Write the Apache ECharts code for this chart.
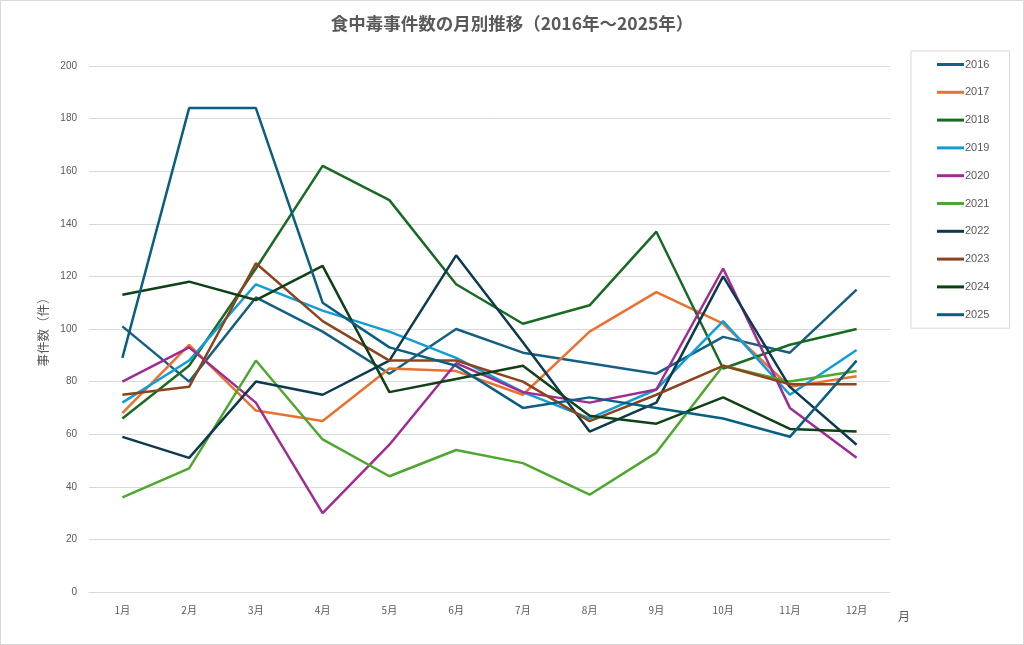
<!DOCTYPE html>
<html>
<head>
<meta charset="utf-8">
<script src="https://cdn.jsdelivr.net/npm/echarts@6/dist/echarts.min.js"></script>
<style>
html,body{margin:0;padding:0;background:#fff;}
#chart{width:1024px;height:645px;box-sizing:border-box;border:1px solid #d9d9d9;}
</style>
</head>
<body>
<div id="chart"></div>
<script>
// 月ラベル
var months = ['1月','2月','3月','4月','5月','6月','7月','8月','9月','10月','11月','12月'];
var years = ['2016','2017','2018','2019','2020','2021','2022','2023','2024','2025'];

// 各年の月別件数
var y2016 = [101, 80, 112, 99, 83, 100, 91, 87, 83, 97, 91, 115];
var y2017 = [68, 94, 69, 65, 85, 84, 75, 99, 114, 102, 78, 82];
var y2018 = [66, 86, 123, 162, 149, 117, 102, 109, 137, 85, 94, 100];
var y2019 = [72, 88, 117, 107, 99, 89, 76, 66, 77, 103, 75, 92];
var y2020 = [80, 93, 72, 30, 56, 87, 76, 72, 77, 123, 70, 51];
var y2021 = [36, 47, 88, 58, 44, 54, 49, 37, 53, 86, 80, 84];
var y2022 = [59, 51, 80, 75, 88, 128, 95, 61, 72, 120, 78, 56];
var y2023 = [75, 78, 125, 103, 88, 88, 80, 65, 75, 86, 79, 79];
var y2024 = [113, 118, 111, 124, 76, 81, 86, 67, 64, 74, 62, 61];
var y2025 = [89, 184, 184, 110, 93, 86, 70, 74, 70, 66, 59, 88];

var colors = ['#156082','#E97132','#196B24','#0F9ED5','#A02B93','#4EA72E','#0D3A4E','#8C441E','#0F4016','#095F80'];
var allData = [y2016, y2017, y2018, y2019, y2020, y2021, y2022, y2023, y2024, y2025];

var series = [];
for (var i = 0; i < years.length; i++) {
    series.push({
        name: years[i],
        type: 'line',
        data: allData[i],
        symbol: 'none',
        smooth: false,
        lineStyle: {width: 2.5, color: colors[i]},
        itemStyle: {color: colors[i]}
    });
}

var chart = echarts.init(document.getElementById('chart'));
chart.setOption({
    animation: false,
    color: colors,
    title: {
        text: '食中毒事件数の月別推移（2016年～2025年）',
        left: 'center',
        top: 9,
        textStyle: {fontFamily: 'Noto Sans CJK JP', fontSize: 17.5, fontWeight: 'bold', color: '#595959'}
    },
    legend: {
        orient: 'vertical',
        left: 910,
        top: 50,
        padding: [8, 20, 8, 26],
        itemGap: 16.8,
        itemWidth: 27,
        itemHeight: 11,
        icon: 'path://M0,4 L27,4 L27,7 L0,7 Z',
        borderColor: '#d9d9d9',
        borderWidth: 1,
        textStyle: {fontFamily: 'Liberation Sans', fontSize: 11, color: '#595959', padding: [0,0,0,-4]},
        data: years
    },
    grid: {left: 88, right: 133, top: 65, bottom: 52, containLabel: false},
    xAxis: {
        type: 'category',
        data: months,
        boundaryGap: true,
        name: '月',
        nameLocation: 'end',
        nameGap: 8,
        nameTextStyle: {fontFamily: 'Noto Sans CJK JP', fontSize: 12, color: '#595959', verticalAlign: 'top', padding: [18,0,0,0]},
        axisLine: {show: true, lineStyle: {color: '#d9d9d9'}},
        axisTick: {show: false},
        axisLabel: {fontFamily: 'Noto Sans CJK JP', fontSize: 10, color: '#595959', margin: 13},
        splitLine: {show: false}
    },
    yAxis: {
        type: 'value',
        min: 0,
        max: 200,
        interval: 20,
        name: '事件数（件）',
        nameLocation: 'middle',
        nameRotate: 90,
        nameGap: 36,
        nameTextStyle: {fontFamily: 'Noto Sans CJK JP', fontSize: 12.5, color: '#595959'},
        axisLine: {show: false},
        axisTick: {show: false},
        axisLabel: {fontFamily: 'Liberation Sans', fontSize: 10, color: '#595959', margin: 12},
        splitLine: {lineStyle: {color: '#d9d9d9', width: 1}}
    },
    series: series
});
</script>
</body>
</html>
